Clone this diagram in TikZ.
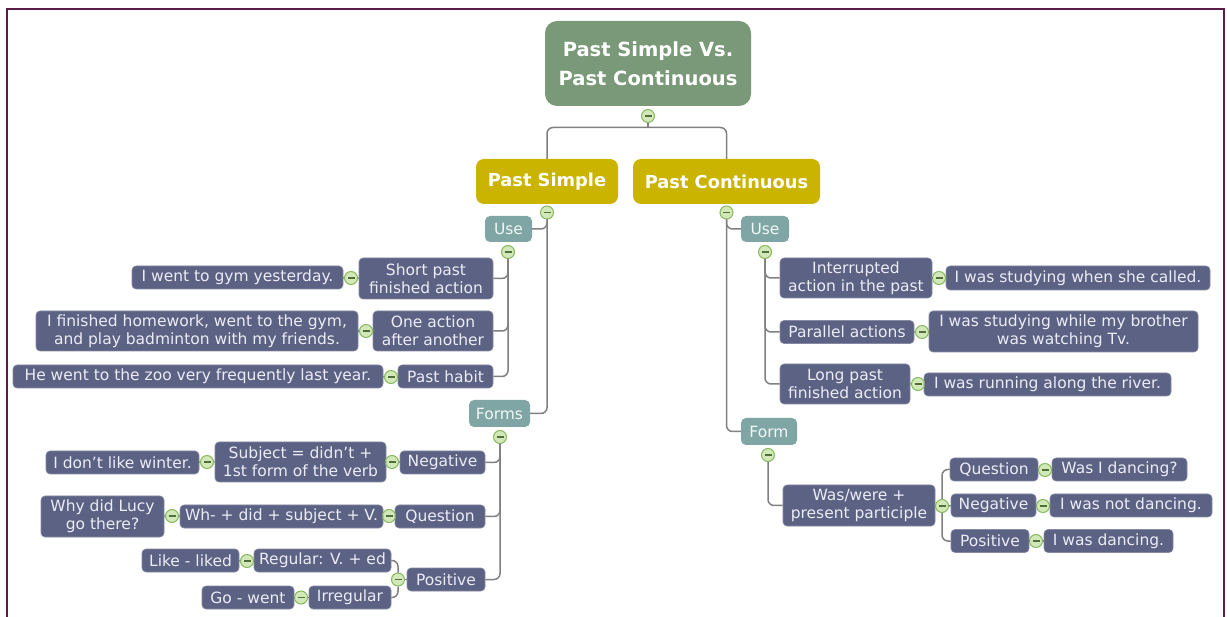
\documentclass[tikz,border=0pt]{standalone}
\usepackage{fontspec}
\setmainfont{DejaVu Sans}
\definecolor{rootc}{RGB}{122,153,120}
\definecolor{goldc}{RGB}{202,180,0}
\definecolor{tealc}{RGB}{127,166,164}
\definecolor{leafc}{RGB}{92,98,132}
\definecolor{leaftx}{RGB}{236,236,244}
\definecolor{linec}{RGB}{128,128,128}
\definecolor{togf}{RGB}{210,232,185}
\definecolor{togd}{RGB}{135,185,95}
\definecolor{framec}{RGB}{92,28,72}
\begin{document}
\begin{tikzpicture}[x=1pt,y=-1pt,
 box/.style={inner sep=0pt, align=center, text=leaftx},
 rootbox/.style={box, fill=rootc, rounded corners=12pt, font=\fontsize{19.5}{29}\selectfont\bfseries, text=white},
 mainbox/.style={box, fill=goldc, rounded corners=8pt, font=\fontsize{17.8}{21}\selectfont\bfseries, text=white},
 subbox/.style={box, fill=tealc, rounded corners=5pt, font=\fontsize{15.5}{18}\selectfont, text=white!90!tealc},
 leaf/.style={box, fill=leafc, draw=leafc!75!white, line width=0.6pt, rounded corners=4pt, font=\fontsize{15.5}{18}\selectfont},
 conn/.style={draw=linec, line width=1.5pt, rounded corners=6pt},
 tog/.style={circle, draw=togd, fill=togf, line width=1pt, minimum size=13pt, inner sep=0pt,
   path picture={\draw[togd!60!black, line width=1.3pt] ([xshift=-3.5pt]path picture bounding box.center) -- ([xshift=3.5pt]path picture bounding box.center);}},
]
\useasboundingbox (0,0) rectangle (1227,617);
\draw[framec, line width=2.5pt] (7,640) -- (7,9) -- (1224,9) -- (1224,640);

% top levels
\node[rootbox, minimum width=206, minimum height=85] (root) at (648,63.5) {Past Simple Vs.\\Past Continuous};
\node[mainbox, minimum width=142, minimum height=45] (ps) at (547,181.5) {Past Simple};
\node[mainbox, minimum width=187, minimum height=45] (pc) at (726.5,181.5) {Past Continuous};

% left: Past Simple
\node[subbox, minimum width=47, minimum height=26] (luse) at (508.5,229) {Use};
\node[leaf, minimum width=134, minimum height=41] (short) at (426,278.5) {Short past\\finished action};
\node[leaf, minimum width=211, minimum height=23] (went) at (237.5,277.5) {I went to gym yesterday.};
\node[leaf, minimum width=120, minimum height=40] (oneact) at (433,331) {One action\\after another};
\node[leaf, minimum width=322, minimum height=40] (finished) at (197,331) {I finished homework, went to the gym,\\and play badminton with my friends.};
\node[leaf, minimum width=95, minimum height=23] (habit) at (445.5,376.5) {Past habit};
\node[leaf, minimum width=370, minimum height=23] (zoo) at (198,376.5) {He went to the zoo very frequently last year.};

\node[subbox, minimum width=61, minimum height=27] (forms) at (499.5,413.5) {Forms};
\node[leaf, minimum width=85, minimum height=23] (lneg) at (442.5,462.5) {Negative};
\node[leaf, minimum width=171, minimum height=40] (subj) at (300.5,462) {Subject = didn't +\\1st form of the verb};
\node[leaf, minimum width=153, minimum height=23] (winter) at (122.5,462.5) {I don't like winter.};
\node[leaf, minimum width=90, minimum height=23] (lquest) at (440,516.5) {Question};
\node[leaf, minimum width=203, minimum height=23] (wh) at (281.5,516.5) {Wh- + did + subject + V.};
\node[leaf, minimum width=123, minimum height=41] (lucy) at (102.5,516.5) {Why did Lucy\\go there?};
\node[leaf, minimum width=78, minimum height=23] (lpos) at (446,579.5) {Positive};
\node[leaf, minimum width=137, minimum height=23] (regular) at (322.5,560.5) {Regular: V. + ed};
\node[leaf, minimum width=97, minimum height=23] (liked) at (190.5,560.5) {Like - liked};
\node[leaf, minimum width=82, minimum height=23] (irregular) at (350,597.5) {Irregular};
\node[leaf, minimum width=92, minimum height=23] (gowent) at (248,597.5) {Go - went};

% right: Past Continuous
\node[subbox, minimum width=48, minimum height=26] (ruse) at (765,229) {Use};
\node[leaf, minimum width=152, minimum height=40] (interr) at (856,278) {Interrupted\\action in the past};
\node[leaf, minimum width=264, minimum height=24] (when) at (1078,278) {I was studying when she called.};
\node[leaf, minimum width=134, minimum height=23] (parallel) at (847,332) {Parallel actions};
\node[leaf, minimum width=269, minimum height=41] (while) at (1063.5,331.5) {I was studying while my brother\\was watching Tv.};
\node[leaf, minimum width=130, minimum height=40] (longpast) at (845,384) {Long past\\finished action};
\node[leaf, minimum width=247, minimum height=23] (running) at (1047.5,384.5) {I was running along the river.};

\node[subbox, minimum width=56, minimum height=27] (form) at (769,431.5) {Form};
\node[leaf, minimum width=152, minimum height=41] (was) at (859,505.5) {Was/were +\\present participle};
\node[leaf, minimum width=88, minimum height=23] (rquest) at (994,469.5) {Question};
\node[leaf, minimum width=135, minimum height=23] (dancingq) at (1119.5,469.5) {Was I dancing?};
\node[leaf, minimum width=85, minimum height=23] (rneg) at (993.5,505.5) {Negative};
\node[leaf, minimum width=162, minimum height=23] (notdancing) at (1131,505.5) {I was not dancing.};
\node[leaf, minimum width=78, minimum height=23] (rpos) at (990,541) {Positive};
\node[leaf, minimum width=129, minimum height=23] (dancing) at (1108.5,541) {I was dancing.};

% toggles
\node[tog] (rootc) at (648,116) {};
\node[tog] (psc) at (547,212.5) {};
\node[tog] (pcc) at (726.5,212.5) {};
\node[tog] (lusec) at (508,252) {};
\node[tog] (c1) at (351,278) {};
\node[tog] (c2) at (366,331) {};
\node[tog] (c3) at (391,377) {};
\node[tog] (formsc) at (500,437) {};
\node[tog] (c4) at (392,462) {};
\node[tog] (c5) at (207,462) {};
\node[tog] (c6) at (389,516) {};
\node[tog] (c7) at (172,516) {};
\node[tog] (lposc) at (398,579.5) {};
\node[tog] (c8) at (247,561) {};
\node[tog] (c9) at (301,597.5) {};
\node[tog] (rusec) at (765,252) {};
\node[tog] (c10) at (939,278) {};
\node[tog] (c11) at (922,332) {};
\node[tog] (c12) at (918,384) {};
\node[tog] (formc) at (768,455) {};
\node[tog] (wasc) at (942,506) {};
\node[tog] (c13) at (1045,470) {};
\node[tog] (c14) at (1043,506) {};
\node[tog] (c15) at (1036,541) {};

% connectors
\coordinate (rj) at (648,127.5);
\draw[conn] (rootc.south) -- (rj);
\draw[conn] (ps.north) |- (rj) -| (pc.north);

\draw[conn] (psc.south) |- (luse.east);
\draw[conn] (psc.south) |- (forms.east);
\draw[conn] (lusec.south) |- (short.east);
\draw[conn] (lusec.south) |- (oneact.east);
\draw[conn] (lusec.south) |- (habit.east);
\draw[conn] (short.west) -- (c1.east) (c1.west) -- (went.east);
\draw[conn] (oneact.west) -- (c2.east) (c2.west) -- (finished.east);
\draw[conn] (habit.west) -- (c3.east) (c3.west) -- (zoo.east);
\draw[conn] (formsc.south) |- (lneg.east);
\draw[conn] (formsc.south) |- (lquest.east);
\draw[conn] (formsc.south) |- (lpos.east);
\draw[conn] (lneg.west) -- (c4.east) (c4.west) -- (subj.east);
\draw[conn] (subj.west) -- (c5.east) (c5.west) -- (winter.east);
\draw[conn] (lquest.west) -- (c6.east) (c6.west) -- (wh.east);
\draw[conn] (wh.west) -- (c7.east) (c7.west) -- (lucy.east);
\draw[conn] (lpos.west) -- (lposc.east);
\draw[conn] (lposc.north) |- (regular.east);
\draw[conn] (lposc.south) |- (irregular.east);
\draw[conn] (regular.west) -- (c8.east) (c8.west) -- (liked.east);
\draw[conn] (irregular.west) -- (c9.east) (c9.west) -- (gowent.east);

\draw[conn] (pcc.south) |- (ruse.west);
\draw[conn] (pcc.south) |- (form.west);
\draw[conn] (rusec.south) |- (interr.west);
\draw[conn] (rusec.south) |- (parallel.west);
\draw[conn] (rusec.south) |- (longpast.west);
\draw[conn] (interr.east) -- (c10.west) (c10.east) -- (when.west);
\draw[conn] (parallel.east) -- (c11.west) (c11.east) -- (while.west);
\draw[conn] (longpast.east) -- (c12.west) (c12.east) -- (running.west);
\draw[conn] (formc.south) |- (was.west);
\draw[conn] (was.east) -- (wasc.west);
\draw[conn] (wasc.north) |- (rquest.west);
\draw[conn] (wasc.east) -- (rneg.west);
\draw[conn] (wasc.south) |- (rpos.west);
\draw[conn] (rquest.east) -- (c13.west) (c13.east) -- (dancingq.west);
\draw[conn] (rneg.east) -- (c14.west) (c14.east) -- (notdancing.west);
\draw[conn] (rpos.east) -- (c15.west) (c15.east) -- (dancing.west);
\end{tikzpicture}
\end{document}
